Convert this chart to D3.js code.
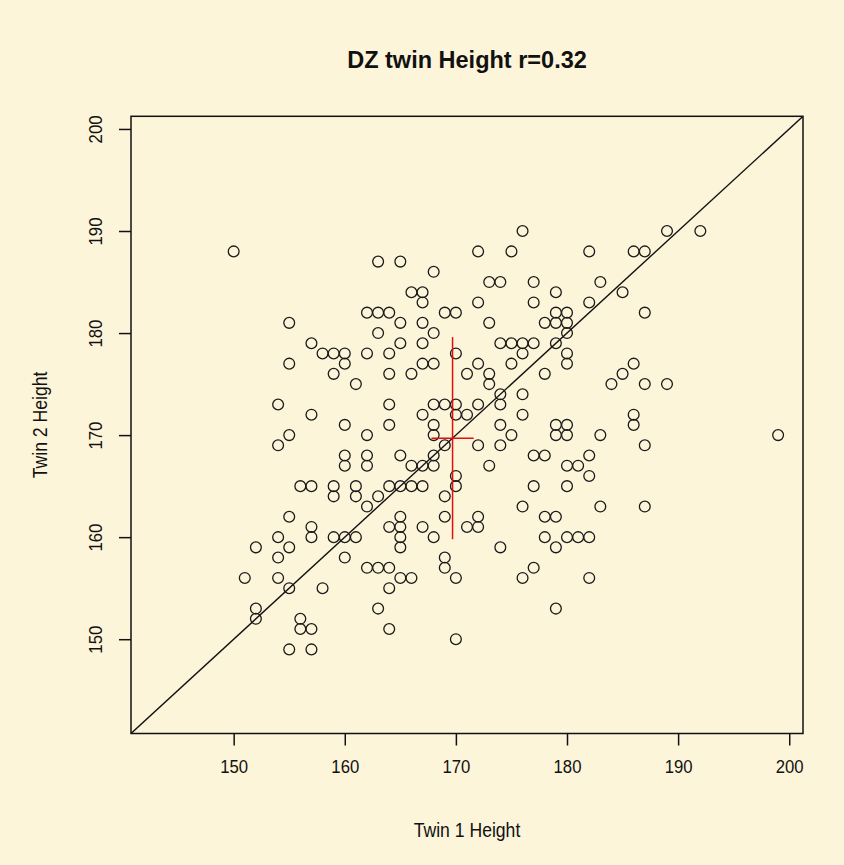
<!DOCTYPE html>
<html>
<head>
<meta charset="utf-8">
<script src="https://cdn.jsdelivr.net/npm/d3@7"></script>
<style>
  html, body { margin: 0; padding: 0; background: #fdf5d9; }
  svg { display: block; }
  text { font-family: "Liberation Sans", Arial, Helvetica, sans-serif; fill: #111; }
</style>
</head>
<body>
<svg id="chart" width="844" height="865"></svg>
<script>
// ---- data ----
const chartTitle = "DZ twin Height r=0.32";
const xTitle = "Twin 1 Height";
const yTitle = "Twin 2 Height";
const xTicks = [150, 160, 170, 180, 190, 200];
const yTicks = [150, 160, 170, 180, 190, 200];
const axisLimits = [140.76, 201.24];

const twin1 = [
  150,155,157,158,159,160,155,160,159,
  176,172,175,163,165,168,173,174,177,179,166,167,167,172,177,162,163,164,169,170,179,180,178,179,180,165,167,173,163,168,180,165,167,174,175,176,177,179,176,162,164,170,180,167,168,172,175,180,164,166,171,173,178,
  189,192,182,186,187,183,185,182,187,186,185,
  161,154,157,160,155,154,160,160,156,157,159,159,161,161,155,
  173,164,168,169,170,170,172,174,174,176,167,171,176,164,168,174,179,180,162,168,175,179,180,169,172,174,162,162,165,168,177,178,166,167,168,173,180,170,170,164,165,166,167,177,180,162,163,169,176,165,169,172,178,179,
  184,187,189,186,186,183,187,199,182,181,182,183,187,
  157,157,154,152,155,154,159,160,161,160,151,154,155,158,152,152,156,156,157,155,157,
  164,165,165,165,167,168,171,172,178,179,180,181,174,169,169,162,163,164,165,166,164,170,176,177,163,179,164,170,
  182,182
];
const twin2 = [
  188,181,179,178,178,178,177,177,176,
  190,188,188,187,187,186,185,185,185,184,184,184,183,183,183,182,182,182,182,182,182,182,181,181,181,181,181,181,180,180,180,179,179,179,179,179,179,179,178,178,178,178,178,177,177,177,177,177,176,176,176,176,176,
  190,190,188,188,188,185,184,183,182,177,176,
  175,173,172,171,170,169,168,167,165,165,165,164,165,164,162,
  175,173,173,173,173,172,173,173,174,174,172,172,172,171,171,171,171,171,170,170,170,170,170,169,169,169,168,167,168,168,168,168,167,167,167,167,167,166,165,165,165,165,165,165,165,163,164,164,163,162,162,162,162,162,
  175,175,175,172,171,170,169,170,168,167,166,163,163,
  161,160,160,159,159,158,160,160,160,158,156,156,155,155,153,152,152,151,151,149,149,
  161,161,160,159,161,160,161,161,160,159,160,160,159,158,157,157,157,157,156,156,155,156,156,157,153,153,151,150,
  160,156
];
// red cross: mean of each twin with its spread
const crossCentre = [169.7, 169.7];
const crossXRange = [167.8, 171.6];
const crossYRange = [159.8, 179.6];

// ---- layout ----
const svg = d3.select("#chart");
const W = 844, H = 865;
const plot = { left: 131, right: 803, top: 116.3, bottom: 733.5 };
const condense = "scale(0.88,1)";

svg.append("rect").attr("width", W).attr("height", H).attr("fill", "#fdf5d9");

const x = d3.scaleLinear().domain(axisLimits).range([plot.left, plot.right]);
const y = d3.scaleLinear().domain(axisLimits).range([plot.bottom, plot.top]);

const g = svg.append("g");

svg.append("defs").append("clipPath").attr("id", "clip")
  .append("rect").attr("x", plot.left).attr("y", plot.top)
  .attr("width", plot.right - plot.left).attr("height", plot.bottom - plot.top);

// diagonal y = x
g.append("line")
  .attr("clip-path", "url(#clip)")
  .attr("x1", x(axisLimits[0])).attr("y1", y(axisLimits[0]))
  .attr("x2", x(axisLimits[1])).attr("y2", y(axisLimits[1]))
  .attr("stroke", "#111").attr("stroke-width", 1.4);

// points
const pts = twin1.map((v, i) => [v, twin2[i]]);
g.append("g").selectAll("circle").data(pts).join("circle")
  .attr("cx", d => x(d[0])).attr("cy", d => y(d[1]))
  .attr("r", 5.4)
  .attr("fill", "none").attr("stroke", "#1a1a1a").attr("stroke-width", 1.3);

// red cross
g.append("line")
  .attr("x1", x(crossCentre[0])).attr("x2", x(crossCentre[0]))
  .attr("y1", y(crossYRange[0])).attr("y2", y(crossYRange[1]))
  .attr("stroke", "#e01010").attr("stroke-width", 1.5);
g.append("line")
  .attr("x1", x(crossXRange[0])).attr("x2", x(crossXRange[1]))
  .attr("y1", y(crossCentre[1])).attr("y2", y(crossCentre[1]))
  .attr("stroke", "#e01010").attr("stroke-width", 1.5);

// box
g.append("rect")
  .attr("x", plot.left).attr("y", plot.top)
  .attr("width", plot.right - plot.left).attr("height", plot.bottom - plot.top)
  .attr("fill", "none").attr("stroke", "#111").attr("stroke-width", 1.5);

// x axis
const xAxis = d3.axisBottom(x).tickValues(xTicks).tickSize(12).tickPadding(14).tickFormat(d3.format("d"));
const gx = svg.append("g").attr("transform", `translate(0,${plot.bottom})`).call(xAxis);
gx.select(".domain").remove();
gx.selectAll(".tick line").attr("stroke", "#111").attr("stroke-width", 1.5);
gx.selectAll(".tick text").attr("font-size", 19).attr("fill", "#111")
  .attr("transform", condense)
  .style("font-family", '"Liberation Sans", Arial, sans-serif');

// y axis
const yAxis = d3.axisLeft(y).tickValues(yTicks).tickSize(12).tickPadding(0).tickFormat(d3.format("d"));
const gy = svg.append("g").attr("transform", `translate(${plot.left},0)`).call(yAxis);
gy.select(".domain").remove();
gy.selectAll(".tick line").attr("stroke", "#111").attr("stroke-width", 1.5);
gy.selectAll(".tick text")
  .attr("x", null).attr("dy", null)
  .attr("text-anchor", "middle")
  .attr("transform", "translate(-29,0) rotate(-90) " + condense)
  .attr("font-size", 19).attr("fill", "#111")
  .style("font-family", '"Liberation Sans", Arial, sans-serif');

// titles
svg.append("text").attr("x", (plot.left + plot.right) / 2).attr("y", 68)
  .attr("text-anchor", "middle").attr("font-size", 23.5).attr("font-weight", "bold")
  .text(chartTitle);
svg.append("text")
  .attr("transform", `translate(${(plot.left + plot.right) / 2},837) ${condense}`)
  .attr("text-anchor", "middle").attr("font-size", 20)
  .text(xTitle);
svg.append("text")
  .attr("transform", `translate(47,${(plot.top + plot.bottom) / 2}) rotate(-90) ${condense}`)
  .attr("text-anchor", "middle").attr("font-size", 20)
  .text(yTitle);
</script>
</body>
</html>
